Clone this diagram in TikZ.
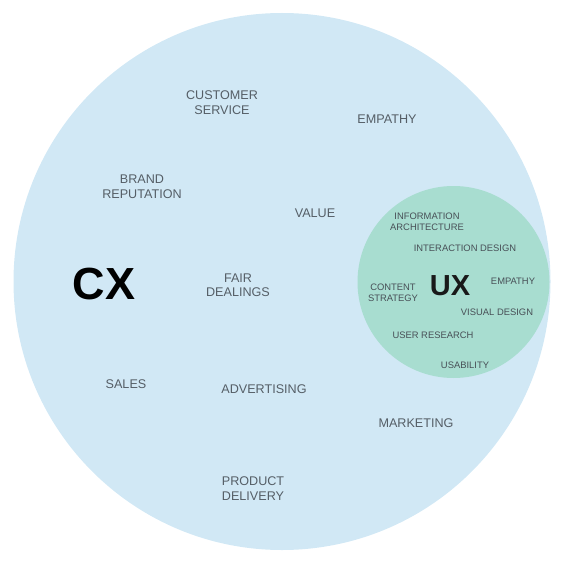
\documentclass[tikz,border=0pt]{standalone}
\usepackage{fontspec}
\setmainfont{Liberation Sans}
\definecolor{cxblue}{HTML}{D1E8F5}
\definecolor{uxgreen}{HTML}{A8DDD0}
\definecolor{lblgray}{HTML}{555E66}
\begin{document}
\begin{tikzpicture}[x=1pt,y=-1pt,
  lbl/.style={text=lblgray,align=center,font=\fontsize{12.6}{14.5}\selectfont,inner sep=0pt},
  slbl/.style={text=lblgray!85!black,align=center,font=\fontsize{9.4}{11}\selectfont,inner sep=0pt},
  big/.style={text=black,font=\fontsize{45}{48}\selectfont\bfseries,inner sep=0pt},
  mid/.style={text=black!90,font=\fontsize{29}{32}\selectfont\bfseries,inner sep=0pt}]
\useasboundingbox (0,0) rectangle (564,564);
\fill[cxblue] (282,281.5) circle[radius=268.5];
\fill[uxgreen] (453.5,282) circle[radius=96];
% CX labels
\node[big] (cx) at (104,284) {CX};
\node[lbl] (cs) at (222,102.5) {CUSTOMER\\SERVICE};
\node[lbl] (emp) at (387,119.5) {EMPATHY};
\node[lbl] (brand) at (142,186.5) {BRAND\\REPUTATION};
\node[lbl] (value) at (315,213.5) {VALUE};
\node[lbl] (fair) at (238,285) {FAIR\\DEALINGS};
\node[lbl] (sales) at (126,384.5) {SALES};
\node[lbl] (adv) at (264,389.5) {ADVERTISING};
\node[lbl] (mkt) at (416,423.5) {MARKETING};
\node[lbl] (prod) at (253,488.5) {PRODUCT\\DELIVERY};
% UX labels
\node[mid] (ux) at (450,286) {UX};
\node[slbl] (ia) at (427,221.5) {INFORMATION\\ARCHITECTURE};
\node[slbl] (id) at (465,248.5) {INTERACTION DESIGN};
\node[slbl] (content) at (393,292.5) {CONTENT\\STRATEGY};
\node[slbl] (uemp) at (513,281.5) {EMPATHY};
\node[slbl] (vd) at (497,312.5) {VISUAL DESIGN};
\node[slbl] (ur) at (433,335) {USER RESEARCH};
\node[slbl] (usab) at (465,365) {USABILITY};
\end{tikzpicture}
\end{document}
